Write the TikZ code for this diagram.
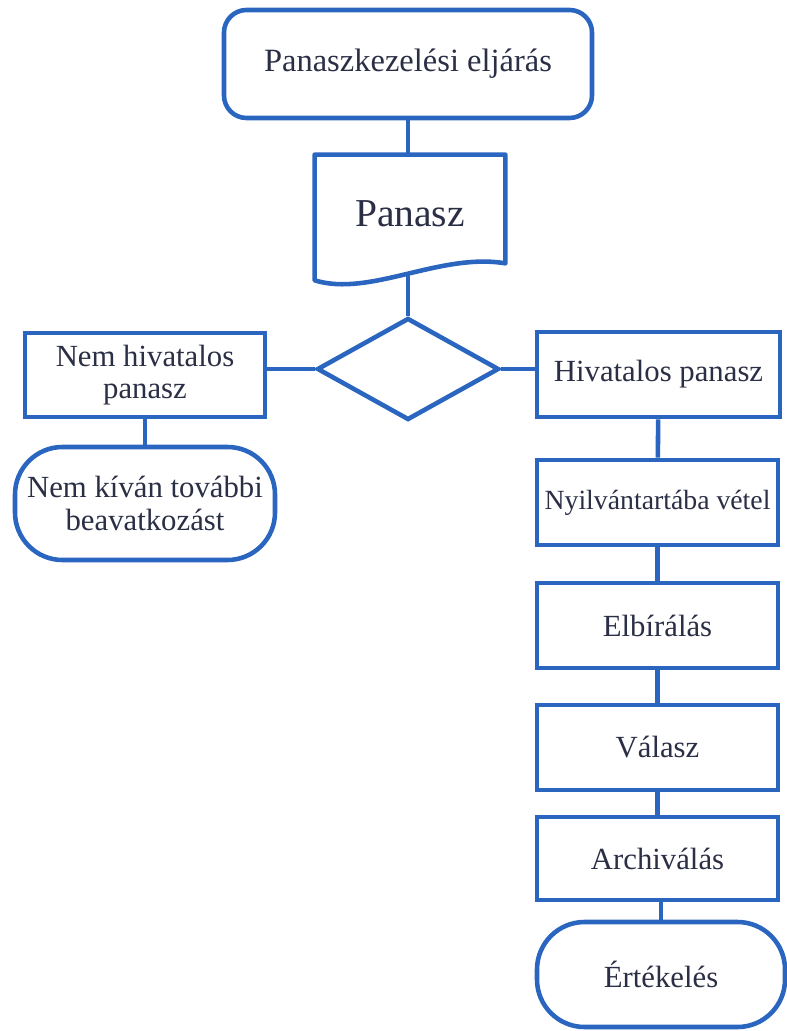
\documentclass[tikz,border=0pt]{standalone}
\usepackage{fontspec}
\setmainfont{Liberation Serif}
\usetikzlibrary{positioning,calc,shapes.geometric}
\definecolor{cFlow}{HTML}{2A66C0}
\definecolor{cText}{HTML}{2B2F45}
\tikzset{
  flowline/.style={draw=cFlow, line width=2.6pt},
  pbox/.style={flowline, align=center, text=cText, inner sep=2pt,
               minimum width=4.82cm, minimum height=1.7cm,
               font=\fontsize{17.5}{18.5}\selectfont},
  termbox/.style={pbox, rounded corners=0.95cm},
  decbox/.style={flowline, diamond, inner sep=0pt,
                 minimum width=3.64cm, minimum height=2.04cm},
  conn/.style={flowline},
}

\begin{document}
\begin{tikzpicture}
    \useasboundingbox (0,0) rectangle (15.74,-20.62);
    % start
    \node[pbox, rounded corners=0.45cm, minimum width=7.36cm, minimum height=2.16cm,
          font=\fontsize{18.5}{20}\selectfont] (start) at (8.16,-1.28) {Panaszkezelési eljárás};
    % document shape
    \node[text=cText, minimum width=3.8cm, minimum height=2.34cm,
          font=\fontsize{22.5}{24}\selectfont] (doc) at (8.2,-4.27) {Panasz};
    \draw[flowline, line join=round] (doc.north west) -- ($(doc.south west)+(0,-0.16)$)
      .. controls ($(doc.south)+(-0.8,-0.5)$) and ($(doc.south)+(0.6,0.4)$) .. ($(doc.south east)+(0,0.18)$)
      -- (doc.north east) -- cycle;
    \coordinate (docb) at (8.16,-5.47);
    \node[decbox] (dec) at (8.16,-7.38) {};
    % left branch
    \node[pbox, minimum width=4.8cm, minimum height=1.68cm] (nh) at (2.9,-7.5) {Nem hivatalos\\panasz};
    \node[termbox, minimum width=5.2cm, minimum height=2.26cm] (nk) at (2.9,-10.07) {Nem kíván további\\beavatkozást};
    % right branch
    \node[pbox, minimum width=4.86cm] (hp) at (13.17,-7.49) {Hivatalos panasz};
    \node[pbox, font=\fontsize{15.8}{17}\selectfont] (nyv) at (13.15,-10.05) {Nyilvántartába vétel};
    \node[pbox] (elb) at (13.15,-12.51) {Elbírálás};
    \node[pbox] (val) at (13.15,-14.95) {Válasz};
    \node[pbox, minimum height=1.66cm] (arc) at (13.15,-17.17) {Archiválás};
    \node[termbox, minimum width=4.96cm, minimum height=2.1cm] (ert) at (13.22,-19.49) {Értékelés};
    % connectors
    \draw[conn] (start) -- (doc.north -| start);
    \draw[conn] (docb) -- (dec.north);
    \draw[conn] (dec.west) -- (dec.west -| nh.east);
    \draw[conn] (dec.east) -- (dec.east -| hp.west);
    \draw[conn] (nh) -- (nk);
    \draw[conn] (hp) -- (nyv);
    \draw[conn] (nyv) -- (elb);
    \draw[conn] (elb) -- (val);
    \draw[conn] (val) -- (arc);
    \draw[conn] (arc.south -| ert.north) -- (ert.north);
  \end{tikzpicture}
\end{document}
